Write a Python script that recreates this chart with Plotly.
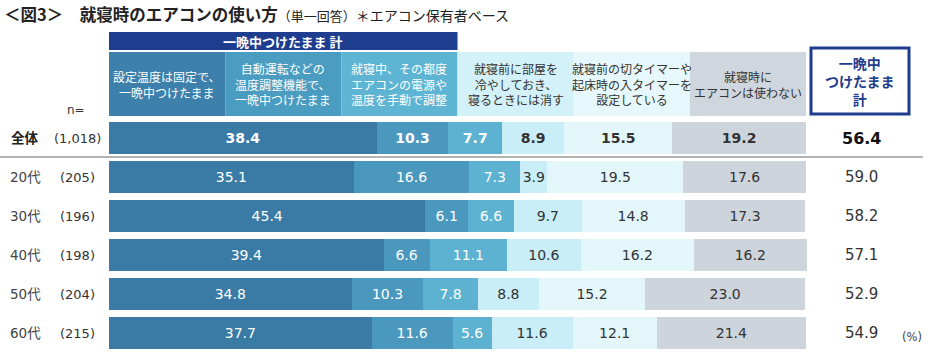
import plotly.graph_objects as go

# ---------------- data ----------------
rows = ["全体", "20代", "30代", "40代", "50代", "60代"]
n_labels = ["(1,018)", "(205)", "(196)", "(198)", "(204)", "(215)"]
categories = [
    "設定温度は固定で、<br>一晩中つけたまま",
    "自動運転などの<br>温度調整機能で、<br>一晩中つけたまま",
    "就寝中、その都度<br>エアコンの電源や<br>温度を手動で調整",
    "就寝前に部屋を<br>冷やしておき、<br>寝るときには消す",
    "就寝前の切タイマーや<br>起床時の入タイマーを<br>設定している",
    "就寝時に<br>エアコンは使わない",
]
s1 = [38.4, 35.1, 45.4, 39.4, 34.8, 37.7]
s2 = [10.3, 16.6, 6.1, 6.6, 10.3, 11.6]
s3 = [7.7, 7.3, 6.6, 11.1, 7.8, 5.6]
s4 = [8.9, 3.9, 9.7, 10.6, 8.8, 11.6]
s5 = [15.5, 19.5, 14.8, 16.2, 15.2, 12.1]
s6 = [19.2, 17.6, 17.3, 16.2, 23.0, 21.4]
totals = [56.4, 59.0, 58.2, 57.1, 52.9, 54.9]

title_main = "＜図3＞　就寝時のエアコンの使い方"
title_sub = "（単一回答）"
title_note = "＊エアコン保有者ベース"
band_label = "一晩中つけたまま 計"
total_header = "一晩中<br>つけたまま<br>計"

# ---------------- style ----------------
W, H = 934, 357
bar_colors = ["#3a7ba6", "#4a98bd", "#5db2d1", "#c9eef7", "#e3f7fb", "#cdd4dc"]
head_colors = ["#3c80ab", "#4a9cc0", "#5db4d3", "#d3f1f8", "#e6f8fb", "#cfd6de"]
text_colors = ["white", "white", "white", "#333333", "#333333", "#333333"]
navy = "#1f3d8e"
NUM_FONT = "DejaVu Sans, Noto Sans CJK JP"
JP_FONT = "Noto Sans CJK JP"

XMAX = 100.3          # small headroom so rounded sums slightly above 100 are not clipped
px_per_unit = 6.97
x0_px = 109
x1_px = x0_px + px_per_unit * XMAX
row0_px, row_step = 138, 39


def px_x(p):
    return p / W


def px_y(p):
    return 1 - p / H


series = [s1, s2, s3, s4, s5, s6]
fig = go.Figure()
for k, vals in enumerate(series):
    texts = [f"<b>{v:.1f}</b>" if i == 0 else f"{v:.1f}" for i, v in enumerate(vals)]
    fig.add_trace(go.Bar(
        y=rows, x=vals, orientation="h",
        marker=dict(color=bar_colors[k], line=dict(width=0)),
        text=texts, textposition="inside", insidetextanchor="middle",
        textangle=0, constraintext="none",
        textfont=dict(family=NUM_FONT, size=14, color=text_colors[k]),
        hoverinfo="skip", cliponaxis=False,
    ))

y_top = -row0_px / row_step
y_bot = (H - row0_px) / row_step

shapes = []
annotations = []


def ann(**kw):
    kw.setdefault("showarrow", False)
    kw.setdefault("xanchor", "center")
    kw.setdefault("yanchor", "middle")
    annotations.append(kw)


# header band
shapes.append(dict(type="rect", xref="x", yref="paper", x0=0, x1=50,
                   y0=px_y(50), y1=px_y(32), fillcolor=navy, line=dict(width=0), layer="below"))
ann(xref="x", yref="paper", x=25, y=px_y(41), text=f"<b>{band_label}</b>",
    font=dict(family=JP_FONT, size=13, color="white"))

ncat = len(categories)
cw = 100 / ncat
for k, c in enumerate(categories):
    shapes.append(dict(type="rect", xref="x", yref="paper", x0=k * cw, x1=(k + 1) * cw,
                       y0=px_y(116), y1=px_y(52), fillcolor=head_colors[k], line=dict(width=0), layer="below"))
    ann(xref="x", yref="paper", x=(k + 0.5) * cw, y=px_y(84), text=c, align="center",
        font=dict(family=JP_FONT, size=12, color=text_colors[k]))

# total header box
shapes.append(dict(type="rect", xref="paper", yref="paper", x0=px_x(811), x1=px_x(909),
                   y0=px_y(114), y1=px_y(48), fillcolor="white", line=dict(color=navy, width=3)))
ann(xref="paper", yref="paper", x=px_x(860), y=px_y(81), text=f"<b>{total_header}</b>",
    align="center", font=dict(family=JP_FONT, size=14, color=navy))

# separator line
shapes.append(dict(type="line", xref="paper", yref="paper", x0=0, x1=px_x(923),
                   y0=px_y(157), y1=px_y(157), line=dict(color="#9a9a9a", width=1.5)))

# row labels & totals
for i, (r, n, t) in enumerate(zip(rows, n_labels, totals)):
    bold = i == 0
    ann(xref="paper", yref="y", x=px_x(25), y=r, text=f"<b>{r}</b>" if bold else r,
        font=dict(family=NUM_FONT, size=13.5, color="#222" if bold else "#444"))
    ann(xref="paper", yref="y", x=px_x(77), y=r, text=n,
        font=dict(family=NUM_FONT, size=13, color="#333"))
    ann(xref="paper", yref="y", x=px_x(861), y=r,
        text=f"<b>{t:.1f}</b>" if bold else f"{t:.1f}",
        font=dict(family=NUM_FONT, size=16 if bold else 15, color="#111" if bold else "#333"))

ann(xref="paper", yref="paper", x=px_x(76), y=px_y(110), text="n=",
    font=dict(family=NUM_FONT, size=12, color="#333"))
ann(xref="paper", yref="paper", x=px_x(912), y=px_y(337), text="(%)",
    font=dict(family=NUM_FONT, size=11.5, color="#444"))

# title
ann(xref="paper", yref="paper", x=px_x(2), y=px_y(14), xanchor="left",
    text=(f"<b><span style='font-size:16.5px'>{title_main}</span></b>"
          f"<span style='font-size:13px'>{title_sub}</span>"
          f"<span style='font-size:14px'>{title_note}</span>"),
    font=dict(family=JP_FONT, size=16, color="#222"))

fig.update_layout(
    width=W, height=H, margin=dict(l=0, r=0, t=0, b=0),
    barmode="stack", bargap=0.18, showlegend=False,
    plot_bgcolor="white", paper_bgcolor="white",
    xaxis=dict(domain=[px_x(x0_px), px_x(x1_px)], range=[0, XMAX], visible=False, fixedrange=True),
    yaxis=dict(domain=[0, 1], range=[y_bot, y_top], visible=False, type="category",
               categoryorder="array", categoryarray=rows, fixedrange=True),
    shapes=shapes, annotations=annotations,
)

fig.write_html("out.html", config={"displayModeBar": False},
               post_script="document.body.style.margin='0';")
